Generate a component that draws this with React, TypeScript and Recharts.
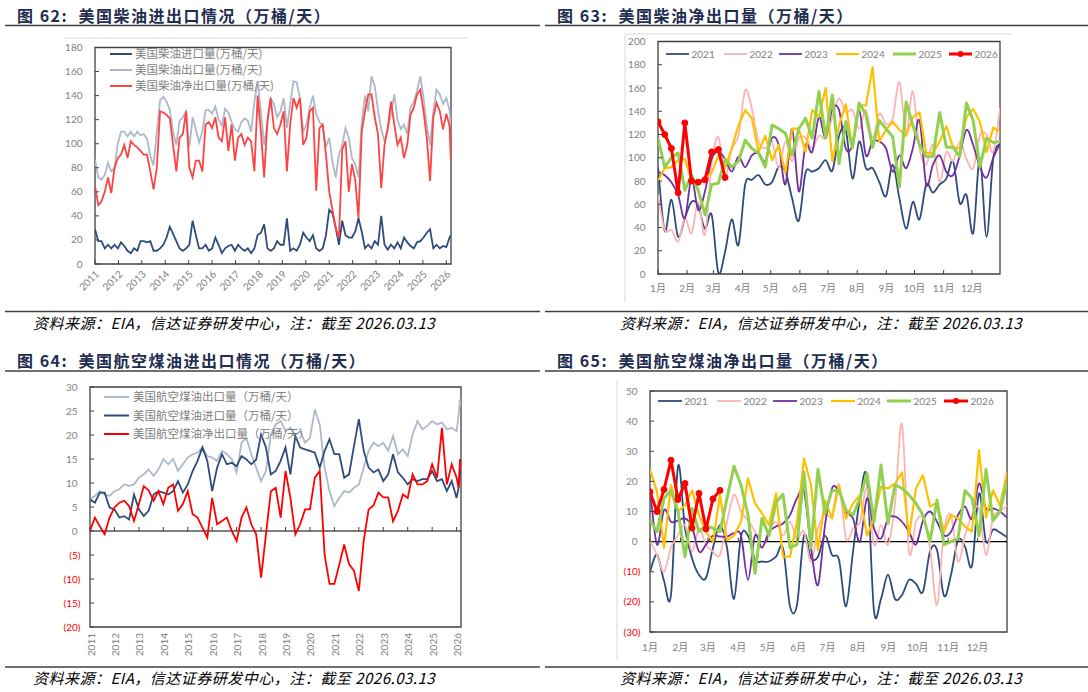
import React from 'react';
import { LineChart, Line, XAxis, YAxis, ReferenceArea, ReferenceLine } from 'recharts';

const FONT = 'Lato, "Noto Sans CJK SC", sans-serif';
const CJK = '"Noto Sans CJK SC", "Noto Sans", sans-serif';
const TICK_GRAY = '#808080';
const FRAME = '#404040';
const NAVY = '#2f4b7c';
const LIGHT = '#adb9ca';

// Excel-like smoothed line (Catmull-Rom through the points)
const smoothCurve: any = (context: any) => {
  let pts: number[][] = [];
  return {
    areaStart() {},
    areaEnd() {},
    lineStart() { pts = []; },
    lineEnd() {
      const n = pts.length;
      if (!n) return;
      context.moveTo(pts[0][0], pts[0][1]);
      for (let i = 0; i < n - 1; i++) {
        const p0 = pts[Math.max(i - 1, 0)], p1 = pts[i], p2 = pts[i + 1], p3 = pts[Math.min(i + 2, n - 1)];
        context.bezierCurveTo(
          p1[0] + (p2[0] - p0[0]) / 6, p1[1] + (p2[1] - p0[1]) / 6,
          p2[0] - (p3[0] - p1[0]) / 6, p2[1] - (p3[1] - p1[1]) / 6,
          p2[0], p2[1]);
      }
    },
    point(x: number, y: number) { pts.push([+x, +y]); },
  };
};

// ---------------- 图62 美国柴油进出口情况 ----------------
const dieselYearTicks = [2011, 2012, 2013, 2014, 2015, 2016, 2017, 2018, 2019, 2020, 2021, 2022, 2023, 2024, 2025, 2026];
const dieselValueTicks = [0, 20, 40, 60, 80, 100, 120, 140, 160, 180];
const dieselSamplesPerYear = 7.2;
const dieselLastDate = 2026.19;
const dieselImports = [29,19,19,13,16,13,16,13,18,15,
  11,9,13,11,19,19,18,19,11,11,
  13,16,22,31,25,19,13,11,13,16,
  36,24,13,13,16,11,13,22,16,9,
  13,15,16,11,16,13,11,13,9,13,
  24,26,33,13,11,13,19,16,16,38,
  11,13,11,16,26,22,19,24,13,11,
  13,24,45,42,30,16,36,24,22,22,
  27,38,27,13,16,13,19,16,40,16,
  12,16,13,18,13,22,18,15,13,18,
  19,22,26,29,13,16,13,15,
  14,22,24];
const dieselExports = [87,72,70,74,84,77,80,100,110,110,
  106,110,106,110,107,108,104,90,82,110,
  136,139,135,128,110,99,119,122,127,97,
  122,112,101,110,128,128,125,131,120,115,
  129,126,118,112,110,118,121,119,110,135,
  152,127,99,116,138,133,122,127,138,113,
  133,152,151,138,110,116,130,140,125,118,
  115,97,105,85,72,91,99,113,105,88,
  83,72,118,140,127,156,148,128,112,102,
  112,125,141,120,112,116,108,130,135,144,
  156,138,115,99,127,145,141,133,
  138,128,115];
const dieselNetExports = [65,49,52,60,72,59,80,88,91,99,
  88,102,99,97,94,91,91,77,62,80,
  127,126,124,121,99,77,105,108,127,80,
  72,86,86,77,116,118,113,122,105,102,
  122,94,116,86,105,108,99,105,102,77,
  140,110,72,119,138,113,108,116,127,77,
  116,138,130,138,99,105,127,130,61,113,
  116,91,60,45,30,22,95,102,60,83,
  70,38,110,127,141,141,122,108,63,99,
  113,135,116,99,105,88,99,124,130,141,
  145,127,105,69,122,134,127,112,
  125,115,87];
const dieselLegend = ['美国柴油进口量(万桶/天)', '美国柴油出口量(万桶/天)', '美国柴油净出口量(万桶/天)'];

// ---------------- 图63 美国柴油净出口量（周度，按年） ----------------
const seasonLabels = ['2021', '2022', '2023', '2024', '2025', '2026'];
const dieselNetTicks = [0, 20, 40, 60, 80, 100, 120, 140, 160, 180, 200];
const dieselNet2021 = [92,37,64,32,48,62,59,39,51,1,19,47,25,77,81,85,77,79,92,88,65,46,87,88,91,98,89,119,124,82,114,91,91,79,67,94,65,39,62,47,77,70,77,82,97,61,68,35,100,32,100,112];
const dieselNet2022 = [68,38,38,28,48,35,62,34,94,118,84,108,119,158,142,114,108,114,91,114,97,117,117,108,119,117,135,151,139,141,125,141,117,138,129,134,165,122,157,108,94,111,79,105,97,114,99,91,119,120,105,143];
const dieselNet2023 = [88,85,79,68,48,82,55,71,99,105,99,88,101,92,102,104,97,117,111,77,125,71,111,105,135,117,142,141,108,111,141,102,114,114,108,88,102,91,108,132,77,94,102,88,85,102,124,111,92,83,100,112];
const dieselNet2024 = [80,91,92,98,99,81,79,82,87,102,91,108,128,141,134,105,119,98,111,87,125,125,105,141,135,160,97,128,146,108,145,145,178,114,124,131,124,119,135,139,104,104,114,127,109,108,135,142,131,105,126,122];
const dieselNet2025 = [117,92,100,104,72,85,72,51,77,78,99,92,97,115,108,104,92,128,125,121,102,125,134,117,157,117,154,95,131,109,147,137,109,132,125,118,75,148,128,111,101,101,139,109,109,101,147,132,92,117,113,114];
const dieselNet2026 = [131,120,108,70,130,80,79,81,105,107,83];

// ---------------- 图64 美国航空煤油进出口情况 ----------------
const jetYearTicks = [2011, 2012, 2013, 2014, 2015, 2016, 2017, 2018, 2019, 2020, 2021, 2022, 2023, 2024, 2025, 2026];
const jetValueTicks = [-20, -15, -10, -5, 0, 5, 10, 15, 20, 25, 30];
const jetStepYears = 0.2;
const jetTailDates = [2026.08, 2026.14, 2026.18];
const jetExports = [6.6,7.3,8.3,7.6,7.3,8.3,8.7,9.7,9.4,9.7,
  11.1,11.8,12.8,11.5,12.8,15,13.9,15,12.5,13.9,
  15.3,16,16.3,17.4,15.6,15.3,14.6,16.7,16,15,
  12.2,18.4,19.4,16,13.2,10.4,12.5,20,22.2,22.9,
  20.8,21.5,20,20.8,18.4,19.4,25.3,22.2,13.2,8.3,
  5.2,6.9,8.3,8,9,9.7,13.2,16.7,18.4,17.7,
  18.4,16.7,19.8,16,17,15.6,20.1,22.9,21.2,21.9,
  22.9,22.2,22.6,21.2,21.5,20.8,
  24,27.5,26];
const jetImports = [6.6,5.9,8,8,4.9,4.5,2.8,3.1,2.4,7.6,
  4.5,3.1,4.2,7.6,8.3,8,7.6,8.3,10.4,8,
  9.7,12.5,14.6,17.4,14.6,8.3,13.2,16,13.9,14.2,
  13.5,15.6,14.9,13.9,14.9,20.1,17.4,11.8,12.5,14.6,
  17.4,11.8,19.8,17.4,17,16.7,16.3,13.2,16.7,19.1,
  16,16,11.1,11.8,17.7,23.3,16.7,13.2,12.2,12.8,
  10.4,11.8,16,12.2,11.1,9.7,10.8,10.4,10.8,10.8,
  12.5,10.4,10.8,8.3,10.4,6.9,
  9,12,13];
const jetNetExports = [0,2.8,1,-0.7,2.8,4.9,5.9,6.3,5.2,2.1,
  5.6,9.3,8.5,6.3,8.3,5.6,9,9.7,4.2,5.6,
  8.3,3.5,2.8,0.7,-1.4,6.9,1.4,2.1,2.8,0,
  -2.1,2.8,4.9,1.4,-0.7,-9.7,-0.7,8.3,9,2.8,
  12.5,6.9,-0.7,1.4,4.5,4.5,11.1,12.5,-5,-11,
  -11,-7,-2.8,-6.9,-8.3,-12.5,-2,4.5,5.3,8,
  7,7,2,4.2,7.6,6.9,11.8,9.7,9.7,10.4,
  13.9,11.1,21.5,9.7,13.9,11.1,
  9,15,13.5];
const jetLegend = ['美国航空煤油出口量（万桶/天）', '美国航空煤油进口量（万桶/天）', '美国航空煤油净出口量（万桶/天）'];

// ---------------- 图65 美国航空煤油净出口量（周度，按年） ----------------
const jetNetTicks = [-30, -20, -10, 0, 10, 20, 30, 40, 50];
const jetNet2021 = [-10,-4.4,-13,-17.7,25,4.4,-5.5,-11,-12,-2,5.5,-2,-19,1.7,2,-6,-6.6,-6.6,-5,-2.2,-21.5,-21,2,-5.5,-5,2,-4.4,-6,-21.5,-3.3,14.4,21,-23,-19,-11,-19,-17.7,-12.7,-14,-16.6,-3.3,-2.8,-18,-11,0.5,-1.7,-8,16,0,4,3,1.5];
const jetNet2022 = [0.5,-4.4,-10,-2,2,5.5,-3.3,4.4,-1,-3.3,-4.4,6.6,15.5,10,7,3.3,-2,3.3,6.6,2,6.6,1,3.3,-6.6,4.4,8.8,8.8,18.8,1,4.4,6.6,17.7,-1,5.5,-1,12.7,39,-3.3,6.6,7.7,-2,-21,3.3,8.8,-6.6,2,8.8,11,-4.4,8,10,12];
const jetNet2023 = [17.7,-1,10.5,6.6,7,7.7,5,-3.3,-1,2,1.7,1.7,2.8,2,-12.7,2,-2,3.3,5,6,8.8,14.4,16.6,-2,-14.4,5.5,17.7,16.6,10,7.7,0,14.4,4.4,1,7.7,8.3,6.6,3.3,-1,7,10,6.6,2,3.3,8.8,11.6,7.7,19.3,11,11,10,8];
const jetNet2024 = [24,16.6,-2,18.8,10,12,17,8.8,3.3,0,15.5,0.5,2,6.6,21,12.7,9.4,5.5,16,-5,-5,6.6,27.6,18.8,-2.8,13.8,7.7,18.8,7.7,12.7,15.5,2,7.7,18.2,17.7,19.3,23,2,17.7,22,11.6,13,3.3,8.8,7.7,5,3.3,30.4,8,17,12,23];
const jetNet2025 = [7.2,3.3,14.4,17,10,-5,11,3.3,5.5,4.4,3.3,14.4,25,18.8,8.8,-10.5,7.7,2,13,15.7,-2,-1,23,-2,24,9.4,17,17,10.5,8.8,14.4,22.7,6.6,25.4,6,18.8,17.7,15.5,12.7,8.8,0,13.8,-1,0,1,17,14.4,2,24,7,10,20];
const jetNet2026 = [16.5,10,17.3,27,14,19.3,4.5,16,4.2,14.2,17];

// ---------------- shared calendar ----------------
const weeksPerYear = 52;
const monthLabels = ['1月', '2月', '3月', '4月', '5月', '6月', '7月', '8月', '9月', '10月', '11月', '12月'];
const monthStartDays = [0, 31, 59, 90, 120, 151, 181, 212, 243, 273, 304, 334];
const monthTicks = monthStartDays.map((d) => (d / 7) * ((weeksPerYear - 1) / weeksPerYear));

const seasonColors = ['#2f4b7c', '#ffb3b3', '#7030a0', '#ffc000', '#92d050', '#ff0000'];
const seasonWidths = [1.8, 1.8, 1.8, 2.2, 3, 3];

// ---------------- data tables ----------------
const dieselData = dieselImports.map((v, i) => ({
  t: i === dieselImports.length - 1 ? dieselLastDate : 2011 + i / dieselSamplesPerYear,
  imp: v,
  exp: dieselExports[i],
  net: dieselNetExports[i],
}));

const jetMainCount = jetExports.length - jetTailDates.length;
const jetData = jetExports.map((v, i) => ({
  t: i < jetMainCount ? +(2011 + i * jetStepYears).toFixed(3) : jetTailDates[i - jetMainCount],
  exp: v,
  imp: jetImports[i],
  net: jetNetExports[i],
}));

const buildWeekly = (series: number[][]) =>
  Array.from({ length: weeksPerYear }, (_, w) => {
    const row: any = { w };
    series.forEach((s, k) => {
      if (w < s.length) row['s' + k] = s[w];
    });
    return row;
  });

const dieselWeekly = buildWeekly([dieselNet2021, dieselNet2022, dieselNet2023, dieselNet2024, dieselNet2025, dieselNet2026]);
const jetWeekly = buildWeekly([jetNet2021, jetNet2022, jetNet2023, jetNet2024, jetNet2025, jetNet2026]);

// ---------------- ticks ----------------
const ValueTick = (props: any) => {
  const { x, y, payload } = props;
  const v = payload.value as number;
  const neg = v < 0;
  return (
    <g>
      <line x1={x} x2={x + 4} y1={y} y2={y} stroke={FRAME} strokeWidth={1} />
      <text x={neg ? x - 9.5 : x - 12.5} y={y} dy="0.35em" textAnchor="end" fontSize={10} fontFamily={FONT} fill={neg ? '#ff0000' : TICK_GRAY}>
        {neg ? `(${Math.abs(v)})` : v}
      </text>
    </g>
  );
};

const YearTick45 = (props: any) => {
  const { x, y, payload } = props;
  const ax = x + 2;
  const ay = y + 8;
  return (
    <g>
      <line x1={x} x2={x} y1={y} y2={y - 4} stroke={FRAME} strokeWidth={1} />
      <text x={ax} y={ay} transform={`rotate(-45 ${ax} ${ay})`} textAnchor="end" dominantBaseline="central" fontSize={10} fontFamily={FONT} fill={TICK_GRAY}>
        {payload.value}
      </text>
    </g>
  );
};

const YearTick90 = (props: any) => {
  const { x, y, payload, zeroOffset } = props;
  const ax = x + 0.5;
  const ay = y + 6;
  return (
    <g>
      <line x1={x} x2={x} y1={y - zeroOffset} y2={y - zeroOffset - 4} stroke={FRAME} strokeWidth={1} />
      <text x={ax} y={ay} transform={`rotate(-90 ${ax} ${ay})`} textAnchor="end" dominantBaseline="central" fontSize={10} fontFamily={FONT} fill={TICK_GRAY}>
        {payload.value}
      </text>
    </g>
  );
};

const MonthTick = (props: any) => {
  const { x, y, index, zeroOffset, labelDy } = props;
  return (
    <g>
      <line x1={x} x2={x} y1={y - zeroOffset} y2={y - zeroOffset - 4} stroke={FRAME} strokeWidth={1} />
      <text x={x} y={y + labelDy} textAnchor="middle" dominantBaseline="central" fontSize={10} fontFamily={FONT} fill={TICK_GRAY}>
        {monthLabels[index]}
      </text>
    </g>
  );
};

const axisCommon = { axisLine: false, tickLine: false, tickSize: 0, tickMargin: 0, interval: 0 as const, allowDataOverflow: true };

// ---------------- charts ----------------
const Chart62 = () => (
  <LineChart width={430} height={270} data={dieselData} margin={{ top: 7.5, right: 19, bottom: 6, left: 10 }}>
    <XAxis type="number" dataKey="t" domain={[2011, 2026.2]} ticks={dieselYearTicks} height={40} tick={<YearTick45 />} {...axisCommon} />
    <YAxis type="number" domain={[0, 180]} ticks={dieselValueTicks} width={45} tick={<ValueTick />} {...axisCommon} />
    <ReferenceArea x1={2011} x2={2026.2} y1={0} y2={180} fill="none" stroke={FRAME} strokeWidth={1.3} ifOverflow="visible" />
    <Line dataKey="imp" stroke={NAVY} strokeWidth={1.8} dot={false} isAnimationActive={false} type="linear" />
    <Line dataKey="exp" stroke={LIGHT} strokeWidth={1.8} dot={false} isAnimationActive={false} type="linear" />
    <Line dataKey="net" stroke="#ff4343" strokeWidth={1.8} dot={false} isAnimationActive={false} type="linear" />
  </LineChart>
);

const seasonLines = () =>
  seasonLabels.map((label, k) => (
    <Line
      key={label}
      dataKey={'s' + k}
      name={label}
      stroke={seasonColors[k]}
      strokeWidth={seasonWidths[k]}
      type={k < 3 ? smoothCurve : 'linear'}
      dot={k === 5 ? { r: 3, fill: seasonColors[k], stroke: seasonColors[k], strokeWidth: 1 } : false}
      isAnimationActive={false}
      strokeLinejoin="round"
    />
  ));

const Chart63 = () => (
  <LineChart width={410} height={280} data={dieselWeekly} margin={{ top: 11.5, right: 20, bottom: 6, left: 8 }}>
    <XAxis type="number" dataKey="w" domain={[0, weeksPerYear - 1]} ticks={monthTicks} height={30} tick={<MonthTick zeroOffset={0} labelDy={14} />} {...axisCommon} />
    <YAxis type="number" domain={[0, 200]} ticks={dieselNetTicks} width={40} tick={<ValueTick />} {...axisCommon} />
    <ReferenceArea x1={0} x2={weeksPerYear - 1} y1={0} y2={200} fill="none" stroke={FRAME} strokeWidth={1.3} ifOverflow="visible" />
    {seasonLines()}
  </LineChart>
);

const Chart64 = () => (
  <LineChart width={440} height={290} data={jetData} margin={{ top: 12, right: 19, bottom: 4, left: 10 }}>
    <XAxis type="number" dataKey="t" domain={[2011, 2026.18]} ticks={jetYearTicks} height={34} tick={<YearTick90 zeroOffset={96} />} {...axisCommon} />
    <YAxis type="number" domain={[-20, 30]} ticks={jetValueTicks} width={40} tick={<ValueTick />} {...axisCommon} />
    <ReferenceArea x1={2011} x2={2026.18} y1={-20} y2={30} fill="none" stroke={FRAME} strokeWidth={1.3} ifOverflow="visible" />
    <ReferenceLine y={0} stroke="#000" strokeWidth={1.2} />
    <Line dataKey="exp" stroke={LIGHT} strokeWidth={1.8} dot={false} isAnimationActive={false} type="linear" />
    <Line dataKey="imp" stroke={NAVY} strokeWidth={1.8} dot={false} isAnimationActive={false} type="linear" />
    <Line dataKey="net" stroke="#ff0000" strokeWidth={1.8} dot={false} isAnimationActive={false} type="linear" />
  </LineChart>
);

const Chart65 = () => (
  <LineChart width={425} height={285} data={jetWeekly} margin={{ top: 11, right: 18, bottom: 5, left: 10 }}>
    <XAxis type="number" dataKey="w" domain={[0, weeksPerYear - 1]} ticks={monthTicks} height={28} tick={<MonthTick zeroOffset={90.4} labelDy={15} />} {...axisCommon} />
    <YAxis type="number" domain={[-30, 50]} ticks={jetNetTicks} width={40} tick={<ValueTick />} {...axisCommon} />
    <ReferenceArea x1={0} x2={weeksPerYear - 1} y1={-30} y2={50} fill="none" stroke={FRAME} strokeWidth={1.3} ifOverflow="visible" />
    <ReferenceLine y={0} stroke="#000" strokeWidth={1.2} />
    {seasonLines()}
  </LineChart>
);

// ---------------- page text ----------------
const titles = [
  { text: '图 62:  美国柴油进出口情况（万桶/天）', x: 17, y: 5 },
  { text: '图 63:  美国柴油净出口量（万桶/天）', x: 557, y: 5 },
  { text: '图 64:  美国航空煤油进出口情况（万桶/天）', x: 17, y: 350 },
  { text: '图 65:  美国航空煤油净出口量（万桶/天）', x: 557, y: 350 },
];
const sourceNote = '资料来源：EIA，信达证券研发中心，注：截至 2026.03.13';
const notes = [
  { x: 33, y: 314 },
  { x: 620, y: 314 },
  { x: 33, y: 669 },
  { x: 620, y: 669 },
];

const seasonLegend63 = [666, 724, 779, 836, 893, 949];
const seasonLegend65 = [658, 717, 773, 831, 887, 944];

export default function App() {
  return (
    <div style={{ position: 'absolute', left: 0, top: 0, width: 1088, height: 692, background: '#fff', overflow: 'hidden', fontFamily: CJK }}>
      {titles.map((t) => (
        <div key={t.text} style={{ position: 'absolute', left: t.x, top: t.y, fontSize: 16, lineHeight: '20px', fontWeight: 700, color: '#1f2d50', letterSpacing: 1.5, whiteSpace: 'pre', fontFamily: CJK }}>
          {t.text}
        </div>
      ))}
      {notes.map((n, i) => (
        <div key={i} style={{ position: 'absolute', left: n.x, top: n.y, fontSize: 15, lineHeight: '18px', fontStyle: 'italic', color: '#000', letterSpacing: 0.5, whiteSpace: 'pre', fontFamily: CJK }}>
          {sourceNote}
        </div>
      ))}

      <div style={{ position: 'absolute', left: 40, top: 40 }}><Chart62 /></div>
      <div style={{ position: 'absolute', left: 610, top: 30 }}><Chart63 /></div>
      <div style={{ position: 'absolute', left: 40, top: 375 }}><Chart64 /></div>
      <div style={{ position: 'absolute', left: 600, top: 380 }}><Chart65 /></div>

      <svg width={1088} height={692} style={{ position: 'absolute', left: 0, top: 0, pointerEvents: 'none' }}>
        {/* title and source rules */}
        <line x1={5} x2={540} y1={25.5} y2={25.5} stroke="#404040" strokeWidth={1.5} />
        <line x1={545} x2={1088} y1={25.5} y2={25.5} stroke="#404040" strokeWidth={1.5} />
        <line x1={5} x2={540} y1={371} y2={371} stroke="#404040" strokeWidth={1.5} />
        <line x1={545} x2={1088} y1={371} y2={371} stroke="#404040" strokeWidth={1.5} />
        <line x1={5} x2={540} y1={311.5} y2={311.5} stroke="#404040" strokeWidth={1.5} />
        <line x1={545} x2={1088} y1={311.5} y2={311.5} stroke="#404040" strokeWidth={1.5} />
        <line x1={5} x2={540} y1={667} y2={667} stroke="#404040" strokeWidth={1.5} />
        <line x1={545} x2={1088} y1={667} y2={667} stroke="#404040" strokeWidth={1.5} />
        {/* chart-area borders */}
        <line x1={64} x2={467} y1={38} y2={38} stroke="#d9d9d9" strokeWidth={1} />
        <line x1={625} x2={1012} y1={34} y2={34} stroke="#d9d9d9" strokeWidth={1} />
        <line x1={625} x2={625} y1={34} y2={302} stroke="#d9d9d9" strokeWidth={1} />
        <line x1={617} x2={617} y1={380} y2={660} stroke="#d9d9d9" strokeWidth={1} />

        {/* 图62 legend */}
        {dieselLegend.map((label, i) => (
          <g key={label}>
            <line x1={110} x2={132} y1={54 + i * 16} y2={54 + i * 16} stroke={[NAVY, LIGHT, '#ff4343'][i]} strokeWidth={2} />
            <text x={135} y={54 + i * 16} dy="0.35em" fontSize={11.5} fill={TICK_GRAY} fontFamily={CJK}>{label}</text>
          </g>
        ))}
        {/* 图64 legend */}
        {jetLegend.map((label, i) => (
          <g key={label}>
            <line x1={104} x2={129} y1={397 + i * 18.5} y2={397 + i * 18.5} stroke={[LIGHT, NAVY, '#ff0000'][i]} strokeWidth={2} />
            <text x={133} y={397 + i * 18.5} dy="0.35em" fontSize={11.5} fill={TICK_GRAY} fontFamily={CJK}>{label}</text>
          </g>
        ))}
        {/* 图63 / 图65 legends */}
        {[{ xs: seasonLegend63, y: 54, len: 23 }, { xs: seasonLegend65, y: 401, len: 24 }].map((lg, j) => (
          <g key={j}>
            {seasonLabels.map((label, k) => (
              <g key={label}>
                <line x1={lg.xs[k]} x2={lg.xs[k] + lg.len} y1={lg.y} y2={lg.y} stroke={seasonColors[k]} strokeWidth={seasonWidths[k]} />
                {k === 5 && <circle cx={lg.xs[k] + lg.len / 2} cy={lg.y} r={3} fill={seasonColors[k]} />}
                <text x={lg.xs[k] + lg.len + 2.5} y={lg.y} dy="0.35em" fontSize={10} fill={TICK_GRAY} fontFamily={FONT}>{label}</text>
              </g>
            ))}
          </g>
        ))}
      </svg>
    </div>
  );
}
